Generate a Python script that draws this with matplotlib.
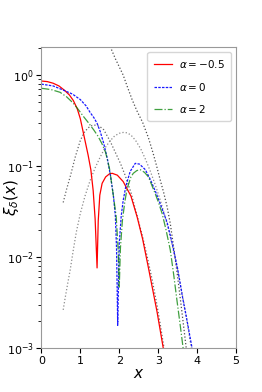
import matplotlib
matplotlib.use("Agg")
import matplotlib.pyplot as plt

# ---- data (x, xi values) ----
red_x = [0.0, 0.15, 0.3, 0.45, 0.6, 0.72, 0.82, 0.92, 1.0, 1.1, 1.2, 1.27, 1.33, 1.38, 1.43,
         1.46, 1.5, 1.56, 1.65, 1.75, 1.82, 1.95, 2.1, 2.3, 2.46, 2.6, 2.75, 2.97, 3.13]
red_y = [0.859, 0.847, 0.813, 0.759, 0.676, 0.603, 0.525, 0.427, 0.331, 0.209, 0.132, 0.0912, 0.0537, 0.0263, 0.0076,
         0.0251, 0.0479, 0.0646, 0.0759, 0.0822, 0.0832, 0.0794, 0.0676, 0.0468, 0.0275, 0.0158, 0.00759, 0.00251, 0.001]

blue_x = [0.0, 0.3, 0.56, 0.8, 1.0, 1.15, 1.25, 1.35, 1.43, 1.51, 1.6, 1.7, 1.78, 1.85, 1.9, 1.93, 1.96,
          2.0, 2.05, 2.1, 2.17, 2.28, 2.41, 2.52, 2.67, 2.8, 2.95, 3.1, 3.23, 3.36, 3.5, 3.62, 3.75, 3.87]
blue_y = [0.794, 0.759, 0.684, 0.617, 0.537, 0.457, 0.389, 0.339, 0.295, 0.240, 0.178, 0.117, 0.0759, 0.0468, 0.0282, 0.0126, 0.00178,
          0.0141, 0.0282, 0.0417, 0.0603, 0.0871, 0.107, 0.105, 0.0912, 0.0708, 0.0501, 0.0339, 0.024, 0.0141, 0.00741, 0.00372, 0.00191, 0.001]

green_x = [0.0, 0.25, 0.48, 0.65, 0.82, 0.95, 1.07, 1.2, 1.34, 1.45, 1.55, 1.65, 1.75, 1.85, 1.92, 1.97, 2.0,
           2.03, 2.08, 2.14, 2.2, 2.3, 2.36, 2.45, 2.54, 2.65, 2.75, 2.92, 3.0, 3.1, 3.2, 3.31, 3.4, 3.48, 3.56, 3.64]
green_y = [0.715, 0.692, 0.646, 0.575, 0.490, 0.417, 0.355, 0.302, 0.251, 0.214, 0.178, 0.141, 0.0933, 0.0468, 0.0282, 0.0126, 0.00468,
           0.0126, 0.0251, 0.0398, 0.0562, 0.0759, 0.0832, 0.0891, 0.0912, 0.0851, 0.0759, 0.0501, 0.0407, 0.0302, 0.02, 0.012, 0.00631, 0.00339, 0.00186, 0.001]

grayA_x = [1.70, 1.77, 1.9, 2.0, 2.1, 2.2, 2.33, 2.45, 2.6, 2.75, 2.87, 2.96, 3.05, 3.14, 3.23, 3.31, 3.4, 3.5, 3.6, 3.72]
grayA_y = [2.40, 2.04, 1.51, 1.23, 1.0, 0.759, 0.537, 0.407, 0.302, 0.204, 0.138, 0.1, 0.0708, 0.0513, 0.0355, 0.0234, 0.0126, 0.00603, 0.00269, 0.001]

grayB_x = [0.56, 0.65, 0.75, 0.87, 1.0, 1.1, 1.2, 1.3, 1.4, 1.5, 1.6, 1.77, 1.9, 2.03, 2.15, 2.3, 2.46, 2.6, 2.72, 2.85, 2.97, 3.06, 3.15]
grayB_y = [0.0398, 0.0562, 0.0794, 0.126, 0.191, 0.234, 0.263, 0.279, 0.282, 0.272, 0.251, 0.186, 0.141, 0.107, 0.0794, 0.0513, 0.0282, 0.0166, 0.01, 0.0055, 0.00295, 0.00174, 0.001]

grayC_x = [0.56, 0.61, 0.68, 0.74, 0.82, 0.9, 1.0, 1.12, 1.25, 1.38, 1.5, 1.62, 1.75, 1.88, 2.0, 2.1, 2.2, 2.3,
           2.42, 2.55, 2.68, 2.8, 2.92, 3.05, 3.18, 3.3, 3.42, 3.55, 3.7, 3.85]
grayC_y = [0.00263, 0.00355, 0.00525, 0.00724, 0.012, 0.0191, 0.0302, 0.0468, 0.0692, 0.0955, 0.123, 0.155, 0.186, 0.214, 0.229, 0.234, 0.232, 0.219,
           0.191, 0.155, 0.117, 0.0871, 0.0631, 0.0427, 0.0275, 0.0174, 0.0105, 0.00562, 0.00251, 0.001]

labels = [r'$\alpha=-0.5$', r'$\alpha=0$', r'$\alpha=2$']
xticks = [0, 1, 2, 3, 4, 5]

fig = plt.figure(figsize=(2.62, 3.92), dpi=100)
ax = fig.add_axes([0.158, 0.112, 0.743, 0.769])

ax.plot(grayA_x, grayA_y, color='0.3', linestyle=':', linewidth=0.9)
ax.plot(grayB_x, grayB_y, color='0.4', linestyle=':', linewidth=0.9)
ax.plot(grayC_x, grayC_y, color='0.55', linestyle=':', linewidth=0.9)

ax.plot(red_x, red_y, color='red', linestyle='-', linewidth=0.9, label=labels[0])
ax.plot(blue_x, blue_y, color='blue', linestyle=(0, (2, 1)), linewidth=0.9, alpha=0.9, label=labels[1])
ax.plot(green_x, green_y, color='green', linestyle='-.', linewidth=0.9, alpha=0.75, label=labels[2])

ax.set_yscale('log')
ax.set_xlim(0, 5)
ax.set_ylim(1e-3, 2.05)
ax.set_xticks(xticks)
ax.tick_params(labelsize=8, pad=2)
ax.set_xlabel(r'$x$', fontsize=11, labelpad=0)
ax.set_ylabel(r'$\xi_\delta(x)$', fontsize=11)
ax.yaxis.set_label_coords(-0.105, 0.5)
for s in ax.spines.values():
    s.set_color('0.6')
ax.legend(loc='upper right', fontsize=7.5, handlelength=1.8, borderpad=0.6, labelspacing=1.0,
          handletextpad=0.6)

fig.savefig('out.png', dpi=100)
